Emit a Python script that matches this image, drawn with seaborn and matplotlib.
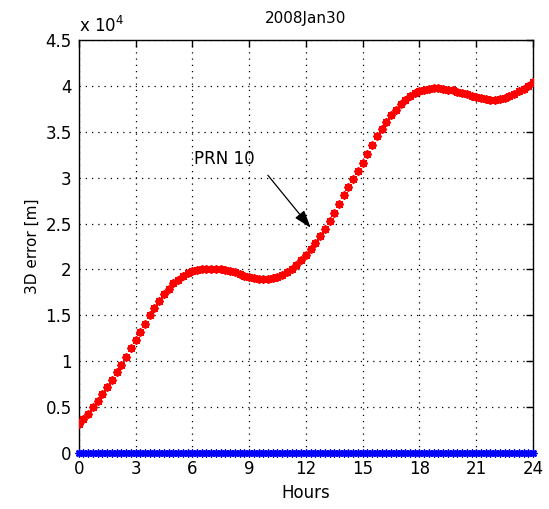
import matplotlib
matplotlib.use('Agg')
import matplotlib.pyplot as plt
import seaborn as sns
from matplotlib.ticker import FormatStrFormatter

# time axis, quarter-hour steps
hours = [i * 0.25 for i in range(97)]

# 3D error of PRN 10, in units of 1e4 m
err_prn10 = [
    0.32, 0.37, 0.43, 0.50, 0.57, 0.64, 0.72, 0.80, 0.88, 0.96, 1.05, 1.14,
    1.23, 1.32, 1.41, 1.50, 1.58, 1.66, 1.73, 1.79, 1.85, 1.89, 1.93, 1.96,
    1.98, 1.99, 2.00, 2.01, 2.01, 2.01, 2.00, 1.99, 1.98, 1.97, 1.95, 1.93,
    1.92, 1.91, 1.90, 1.90, 1.90, 1.91, 1.92, 1.94, 1.97, 2.01, 2.05, 2.10,
    2.16, 2.22, 2.29, 2.36, 2.44, 2.53, 2.62, 2.71, 2.81, 2.90, 2.99, 3.07,
    3.16, 3.26, 3.36, 3.45, 3.53, 3.61, 3.68, 3.74, 3.80, 3.85, 3.89, 3.92,
    3.94, 3.96, 3.97, 3.98, 3.98, 3.97, 3.96, 3.95, 3.93, 3.92, 3.91, 3.89,
    3.88, 3.87, 3.86, 3.85, 3.85, 3.86, 3.87, 3.89, 3.91, 3.94, 3.97, 4.00,
    4.04,
]
# other satellites: zero error
err_others = [0.0] * 97

x_ticks = [0, 3, 6, 9, 12, 15, 18, 21, 24]
y_ticks = [0, 0.5, 1, 1.5, 2, 2.5, 3, 3.5, 4, 4.5]

sns.set_style('white')
plt.rcParams['font.family'] = ['DejaVu Sans']
plt.rcParams['text.color'] = 'black'
plt.rcParams['axes.labelcolor'] = 'black'

fig = plt.figure(figsize=(5.49, 5.09), dpi=100)
ax = fig.add_axes([0.1434, 0.110, 0.8275, 0.8114])

star = (8, 2, 0)
sns.scatterplot(x=hours, y=err_prn10, marker=star, s=26, color='red',
                edgecolor='red', linewidth=1.4, ax=ax, zorder=3)
sns.scatterplot(x=hours, y=err_others, marker=star, s=22, color='blue',
                edgecolor='blue', linewidth=1.2, ax=ax, zorder=3, clip_on=False)
ax.plot(hours, err_others, color='blue', lw=1.0, zorder=3, clip_on=False)

ax.set_xlim(0, 24)
ax.set_ylim(0, 4.5)
ax.set_xticks(x_ticks)
ax.set_yticks(y_ticks)
ax.yaxis.set_major_formatter(FormatStrFormatter('%g'))
ax.tick_params(direction='in', top=True, right=True, length=5, width=1,
               labelsize=12, color='black', labelcolor='black', pad=5)
ax.grid(True, color='black', linestyle=(0, (1, 4)), linewidth=0.9)
for sp in ax.spines.values():
    sp.set_color('black')
    sp.set_linewidth(1.0)

ax.set_xlabel('Hours', fontsize=12, labelpad=4)
ax.set_ylabel('3D error [m]', fontsize=11, labelpad=4)
ax.set_title('2008Jan30', fontsize=11, pad=12)
ax.text(0.0, 1.01, 'x 10$^4$', transform=ax.transAxes, fontsize=12,
        ha='left', va='bottom')

ax.annotate('', xy=(12.35, 2.43), xytext=(9.9, 3.05),
            arrowprops=dict(arrowstyle='-|>,head_length=0.6,head_width=0.2',
                            color='black', lw=0.9, mutation_scale=18))
ax.text(6.1, 3.2, 'PRN 10', fontsize=12, ha='left', va='center')

fig.savefig('out.png', dpi=100)
